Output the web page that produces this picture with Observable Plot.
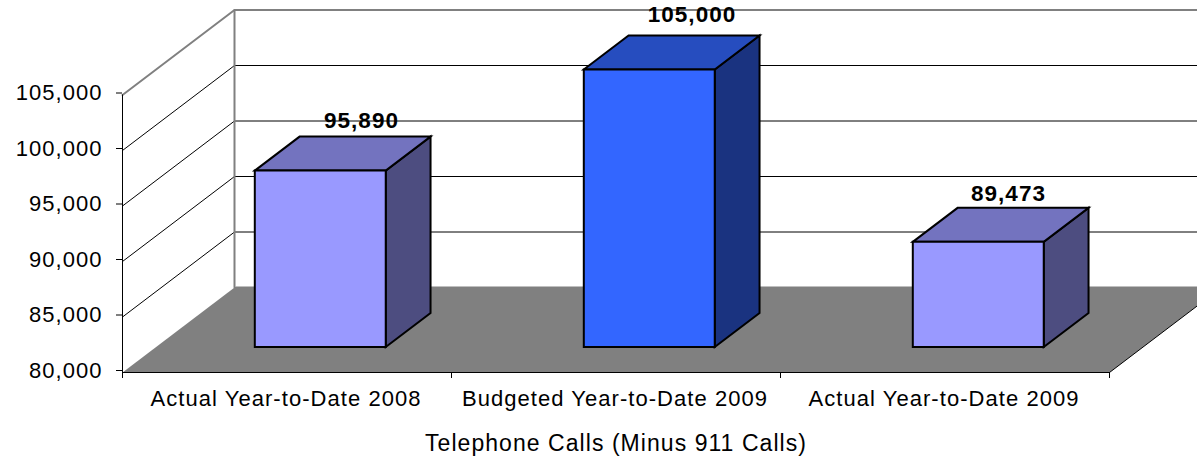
<!DOCTYPE html>
<html>
<head>
<meta charset="utf-8">
<script src="https://cdn.jsdelivr.net/npm/d3@7"></script>
<script src="https://cdn.jsdelivr.net/npm/@observablehq/plot@0.6"></script>
<style>
html,body{margin:0;padding:0;background:#fff;overflow:hidden}
svg{overflow:hidden !important;display:block}
</style>
</head>
<body>
<div id="chart"></div>
<script>
const categories = ["Actual Year-to-Date 2008", "Budgeted Year-to-Date 2009", "Actual Year-to-Date 2009"];
const values = [95890, 105000, 89473];
const yTicks = [80000, 85000, 90000, 95000, 100000, 105000];
const frontColors = ["#9999ff", "#3366ff", "#9999ff"];
const topColors = ["#7373bf", "#264dbf", "#7373bf"];
const sideColors = ["#4d4d80", "#1a3380", "#4d4d80"];
const axisTitle = "Telephone Calls (Minus 911 Calls)";

// Oblique projection of the 3D box: depth d in [0,1] shifts x and y in data units
const yMin = 80000, yMax = 105000, nCat = 3;
const wx = 112 / 329, wy = 85 / 0.0111;
const px = (x, d) => x + d * wx;
const py = (v, d) => v + d * wy;
const pt = (x, v, d, id, color) => ({x: px(x, d), y: py(v, d), id, color});

const bx0 = 0.3, bx1 = 0.698, d0 = 0.3, d1 = 0.7;
const faces = values.flatMap((v, i) => [
  pt(i+bx1, yMin, d0, `s${i}`, sideColors[i]), pt(i+bx1, yMin, d1, `s${i}`, sideColors[i]),
  pt(i+bx1, v, d1, `s${i}`, sideColors[i]), pt(i+bx1, v, d0, `s${i}`, sideColors[i]),
  pt(i+bx0, v, d0, `t${i}`, topColors[i]), pt(i+bx0, v, d1, `t${i}`, topColors[i]),
  pt(i+bx1, v, d1, `t${i}`, topColors[i]), pt(i+bx1, v, d0, `t${i}`, topColors[i]),
  pt(i+bx0, yMin, d0, `f${i}`, frontColors[i]), pt(i+bx0, v, d0, `f${i}`, frontColors[i]),
  pt(i+bx1, v, d0, `f${i}`, frontColors[i]), pt(i+bx1, yMin, d0, `f${i}`, frontColors[i])
]);

const floorDepth = 1.012;
const floor = [pt(0, yMin, 0), pt(0, yMin, floorDepth), pt(nCat, yMin, floorDepth), pt(nCat, yMin, 0)];
const floorEdge = [pt(nCat, yMin, 0), pt(nCat, yMin, floorDepth)];
const grid = yTicks.slice(1, -1).flatMap(v => [
  pt(0, v, 0, v), pt(0, v, 1, v), pt(nCat, v, 1, v)
]);
const wallEdge = [pt(0, yMin, 1), pt(0, yMax, 1)];
const wallTop = [pt(0, yMax, 0), pt(0, yMax, 1), pt(nCat, yMax, 1)];

// Small pixel nudges of the value labels relative to the back top corner centre
const labelNudgeX = [18.5, 20, 7.5];
const labelNudgeY = [-16, -21, -14];
const labels = values.map((v, i) => ({
  x: px(i + 0.5, 0.5) + labelNudgeX[i] / 329,
  y: py(v, d1) - labelNudgeY[i] / 0.0111,
  text: d3.format(",")(v)
}));

const font = '"Liberation Sans", Arial, sans-serif';
const plot = Plot.plot({
  width: 1197, height: 457,
  marginLeft: 122, marginRight: 88, marginTop: 94.5, marginBottom: 85,
  style: {fontFamily: font, fontSize: "22px", letterSpacing: "1.05px", color: "#000", background: "#fff"},
  x: {domain: [0, nCat]},
  y: {domain: [yMin, yMax]},
  color: {type: "identity"},
  marks: [
    Plot.line(floor, {x: "x", y: "y", fill: "#808080", stroke: "none", curve: "linear-closed"}),
    Plot.line(grid, {x: "x", y: "y", z: "id", stroke: "#000", strokeWidth: 1}),
    Plot.line(wallTop, {x: "x", y: "y", stroke: "#808080", strokeWidth: 2, strokeMiterlimit: 10}),
    Plot.line(wallEdge, {x: "x", y: "y", stroke: "#808080", strokeWidth: 2}),
    Plot.line(floorEdge, {x: "x", y: "y", stroke: "#000", strokeWidth: 1}),
    Plot.ruleX([0], {y1: yMin, y2: yMax, stroke: "#000", strokeWidth: 1}),
    Plot.ruleY([yMin], {x1: 0, x2: nCat, stroke: "#000", strokeWidth: 1}),
    Plot.line(faces, {x: "x", y: "y", z: "id", fill: "color", stroke: "#000", strokeWidth: 2,
      strokeLinejoin: "miter", strokeMiterlimit: 10, curve: "linear-closed"}),
    Plot.axisY({ticks: yTicks, tickFormat: d3.format(","), tickSize: 6, tickPadding: 14, label: null, stroke: "#000", strokeOpacity: 1, dy: -2}),
    Plot.axisX({ticks: [0, 1, 2, 3], tickFormat: () => "", tickSize: 6, label: null, stroke: "#000", strokeOpacity: 1}),
    Plot.axisX({ticks: [0.5, 1.5, 2.5], tickFormat: d => categories[d - 0.5], tickSize: 0, tickPadding: 18, label: null, dx: -1}),
    Plot.text(labels, {x: "x", y: "y", text: "text", fontWeight: "bold", fill: "#000", fontSize: 22.5}),
    Plot.text([axisTitle], {x: 1.5, y: yMin, dy: 71, fill: "#000", fontSize: 23})
  ]
});
document.getElementById("chart").appendChild(plot);
</script>
</body>
</html>
